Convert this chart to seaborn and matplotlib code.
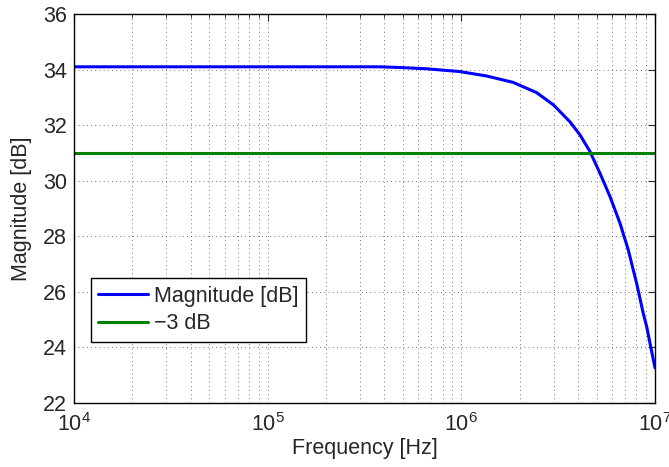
import matplotlib
matplotlib.use("Agg")
import matplotlib.pyplot as plt
import matplotlib.ticker as mticker
import numpy as np
import pandas as pd
import seaborn as sns

# Data
freq_hz = [1e4, 1e5, 2e5, 3.8e5, 5e5, 6.6e5, 8e5, 9.8e5, 1.35e6, 1.85e6, 2.45e6, 2.99e6,
           3.64e6, 4.1e6, 4.62e6, 5.2e6, 5.86e6, 6.6e6, 7.28e6, 8.04e6, 8.7e6, 9.06e6, 1e7]
magnitude_db = [34.1, 34.1, 34.1, 34.1, 34.07, 34.03, 33.98, 33.93, 33.77, 33.54, 33.17, 32.73,
                32.12, 31.65, 31.05, 30.27, 29.43, 28.47, 27.51, 26.31, 25.23, 24.75, 23.27]
ref_freq = [1e4, 1e7]
ref_db = [31.0, 31.0]
labels = ["Magnitude [dB]", "\u22123 dB"]
y_ticks = [22, 24, 26, 28, 30, 32, 34, 36]

sns.set_style("white")
plt.rcParams['font.family'] = ['Liberation Sans', 'DejaVu Sans']
plt.rcParams['mathtext.fontset'] = 'custom'
plt.rcParams['mathtext.rm'] = 'Liberation Sans'
plt.rcParams['mathtext.it'] = 'Liberation Sans'

FS = 15.5

fig = plt.figure(figsize=(6.69, 4.67), dpi=100)
ax = fig.add_axes([0.1106, 0.137, 0.8684, 0.833])

df1 = pd.DataFrame({"f": freq_hz, "m": magnitude_db})
df2 = pd.DataFrame({"f": ref_freq, "m": ref_db})
sns.lineplot(data=df1, x="f", y="m", ax=ax, color=(0, 0, 1), linewidth=2.2, label=labels[0])
sns.lineplot(data=df2, x="f", y="m", ax=ax, color=(0, 0.5, 0), linewidth=2.2, label=labels[1])

ax.set_xscale("log")
ax.set_xlim(1e4, 1e7)
ax.set_ylim(22, 36)
ax.set_yticks(y_ticks)
ax.xaxis.set_major_locator(mticker.LogLocator(base=10, numticks=10))
ax.xaxis.set_minor_locator(mticker.LogLocator(base=10, subs=np.arange(2, 10), numticks=20))
ax.xaxis.set_minor_formatter(mticker.NullFormatter())

ax.grid(True, which="major", axis="both", linestyle=(0, (1, 4)), color="#444444", linewidth=0.6)
ax.grid(True, which="minor", axis="x", linestyle=(0, (1, 4)), color="#444444", linewidth=0.6)

ax.tick_params(which="both", direction="in", top=True, right=True, labelsize=FS)
ax.tick_params(axis="x", which="major", pad=7)
ax.tick_params(axis="y", which="major", pad=5)
ax.tick_params(which="major", length=5)
ax.tick_params(which="minor", length=3)
for s in ax.spines.values():
    s.set_visible(True)
    s.set_color("black")
    s.set_linewidth(1)

ax.set_xlabel("Frequency [Hz]", fontsize=FS, labelpad=2)
ax.set_ylabel("Magnitude [dB]", fontsize=FS, labelpad=8)

leg = ax.legend(loc="lower left", bbox_to_anchor=(0.029, 0.157), fontsize=FS, frameon=True,
                fancybox=False, edgecolor="black", framealpha=1, borderpad=0.35,
                handlelength=2.3, labelspacing=0.3, handletextpad=0.3, borderaxespad=0)
leg.get_frame().set_linewidth(1)

fig.savefig("out.png", dpi=100)
